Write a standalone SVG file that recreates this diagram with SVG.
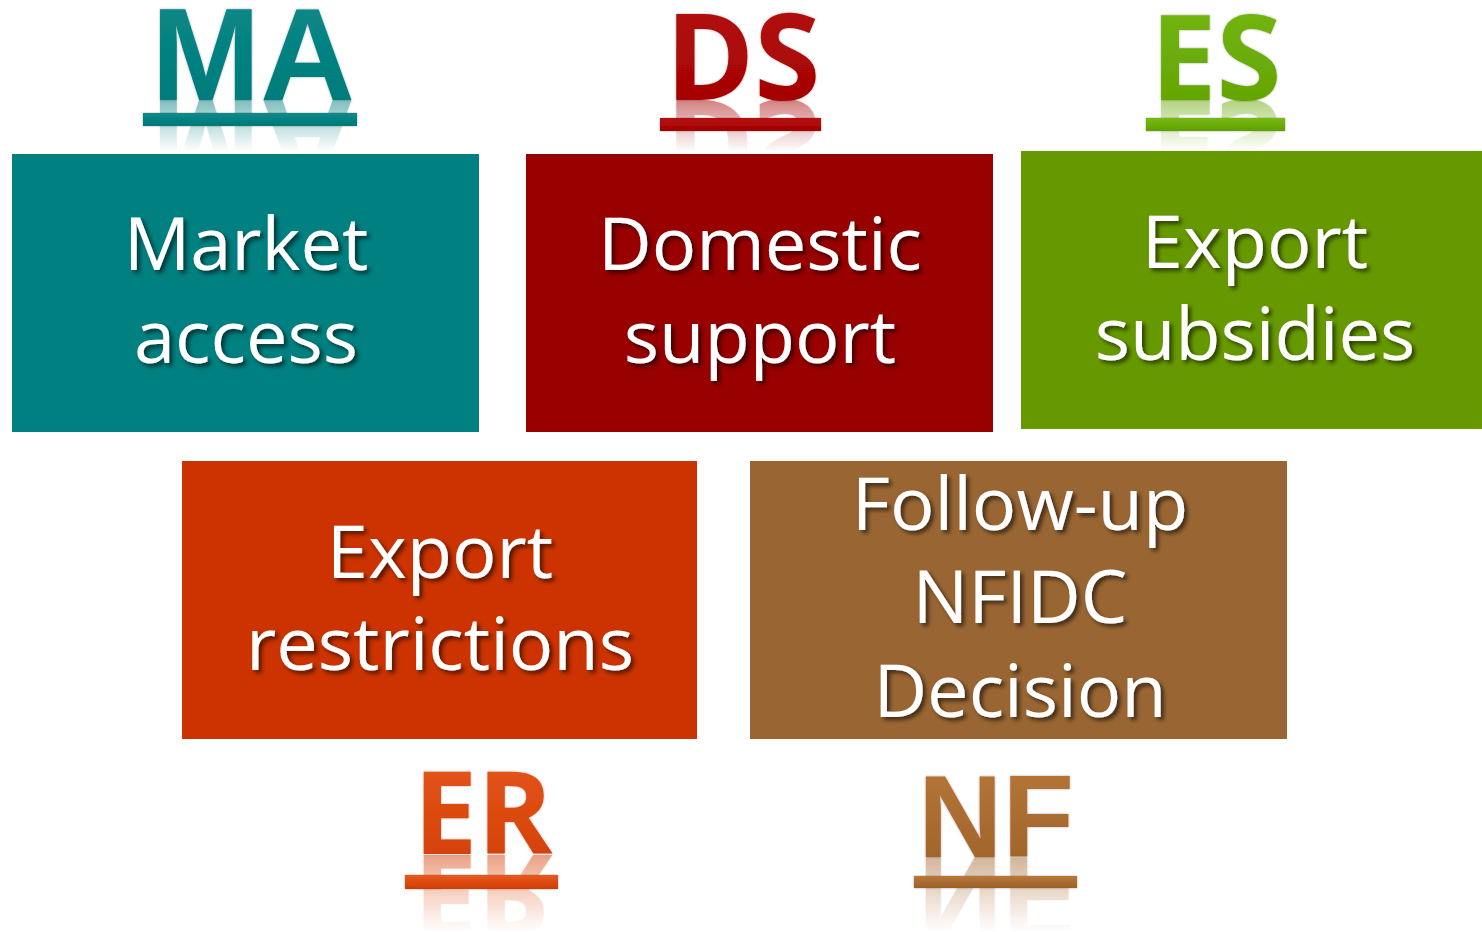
<svg xmlns="http://www.w3.org/2000/svg" width="1482" height="932" viewBox="0 0 1482 932">
<defs>
<style>
.lbl{font-family:"Open Sans","Noto Sans",sans-serif;font-size:74px;fill:#ffffff;text-anchor:middle;filter:url(#sh)}
.abA{font-family:"Liberation Sans",Arial,sans-serif;font-weight:bold;text-anchor:middle}
.abC{font-family:"Open Sans","Noto Sans",sans-serif;font-weight:bold;text-anchor:middle}
</style>
<filter id="sh" x="-10%" y="-20%" width="120%" height="150%">
<feDropShadow dx="3" dy="3" stdDeviation="2" flood-color="#000" flood-opacity="0.6"/>
</filter>
<filter id="bev" x="-5%" y="-5%" width="110%" height="120%">
<feDropShadow dx="0" dy="0" stdDeviation="1" flood-color="#000" flood-opacity="0.35"/>
</filter>
<linearGradient id="fade" x1="0" y1="0" x2="0" y2="1">
<stop offset="0" stop-color="#fff" stop-opacity="0.55"/>
<stop offset="1" stop-color="#fff" stop-opacity="0"/>
</linearGradient>
<mask id="mTop" maskUnits="userSpaceOnUse" x="0" y="0" width="1482" height="932">
<rect x="0" y="100" width="1482" height="52" fill="url(#fade)"/>
</mask>
<mask id="mBot" maskUnits="userSpaceOnUse" x="0" y="0" width="1482" height="932">
<rect x="0" y="855" width="1482" height="77" fill="url(#fade)"/>
</mask>
<linearGradient id="gMA" x1="0" y1="0" x2="0" y2="1"><stop offset="0" stop-color="#0a8a8a"/><stop offset="1" stop-color="#007878"/></linearGradient>
<linearGradient id="gDS" x1="0" y1="0" x2="0" y2="1"><stop offset="0" stop-color="#b81010"/><stop offset="1" stop-color="#a00000"/></linearGradient>
<linearGradient id="gES" x1="0" y1="0" x2="0" y2="1"><stop offset="0" stop-color="#77bb11"/><stop offset="1" stop-color="#5f9f00"/></linearGradient>
<linearGradient id="gER" x1="0" y1="0" x2="0" y2="1"><stop offset="0" stop-color="#e85a20"/><stop offset="1" stop-color="#d03c00"/></linearGradient>
<linearGradient id="gNF" x1="0" y1="0" x2="0" y2="1"><stop offset="0" stop-color="#b8783a"/><stop offset="1" stop-color="#9c6128"/></linearGradient>
</defs>
<rect width="1482" height="932" fill="#ffffff"/>

<g id="connectors"></g>

<g id="node-ma">
<g mask="url(#mTop)" opacity="0.9"><use href="#tMA" transform="translate(0,200) scale(1,-1)"/></g>
<text id="tMA" class="abA" x="253" y="100" font-size="131" fill="url(#gMA)" filter="url(#bev)">MA</text>
<rect x="143" y="113" width="214" height="13" fill="url(#gMA)" filter="url(#bev)"/>
<rect x="12" y="154" width="467" height="278" fill="#008080"/>
<text class="lbl" x="246" y="270">Market</text>
<text class="lbl" x="246" y="363">access</text>
</g>

<g id="node-ds">
<g mask="url(#mTop)" opacity="0.9"><use href="#tDS" transform="translate(0,200) scale(1,-1)"/></g>
<text id="tDS" class="abC" x="743" y="100" font-size="120" fill="url(#gDS)" filter="url(#bev)">DS</text>
<rect x="660" y="118" width="161" height="13" fill="url(#gDS)" filter="url(#bev)"/>
<rect x="526" y="154" width="467" height="278" fill="#990000"/>
<text class="lbl" x="760" y="270">Domestic</text>
<text class="lbl" x="760" y="363">support</text>
</g>

<g id="node-es">
<g mask="url(#mTop)" opacity="0.9"><use href="#tES" transform="translate(0,200) scale(1,-1)"/></g>
<text id="tES" class="abC" x="1216" y="100" font-size="118" fill="url(#gES)" filter="url(#bev)">ES</text>
<rect x="1146" y="118" width="139" height="13" fill="url(#gES)" filter="url(#bev)"/>
<rect x="1021" y="151" width="461" height="278" fill="#669900"/>
<text class="lbl" x="1255" y="268">Export</text>
<text class="lbl" x="1255" y="360">subsidies</text>
</g>

<g id="node-er">
<rect x="182" y="461" width="515" height="278" fill="#cc3300"/>
<text class="lbl" x="440" y="578">Export</text>
<text class="lbl" x="440" y="670">restrictions</text>
<g mask="url(#mBot)" opacity="0.9"><use href="#tER" transform="translate(0,1708) scale(1,-1)"/></g>
<text id="tER" class="abC" x="483" y="854" font-size="114" fill="url(#gER)" filter="url(#bev)">ER</text>
<rect x="405" y="875" width="153" height="14" fill="url(#gER)" filter="url(#bev)"/>
</g>

<g id="node-nf">
<rect x="750" y="461" width="537" height="278" fill="#996633"/>
<text class="lbl" x="1020" y="530">Follow-up</text>
<text class="lbl" x="1020" y="623">NFIDC</text>
<text class="lbl" x="1020" y="717">Decision</text>
<g mask="url(#mBot)" opacity="0.9"><use href="#tNF" transform="translate(0,1714) scale(1,-1)"/></g>
<text id="tNF" class="abA" x="996" y="857" font-size="117" fill="url(#gNF)" filter="url(#bev)">NF</text>
<rect x="914" y="876" width="163" height="12" fill="url(#gNF)" filter="url(#bev)"/>
</g>
</svg>
